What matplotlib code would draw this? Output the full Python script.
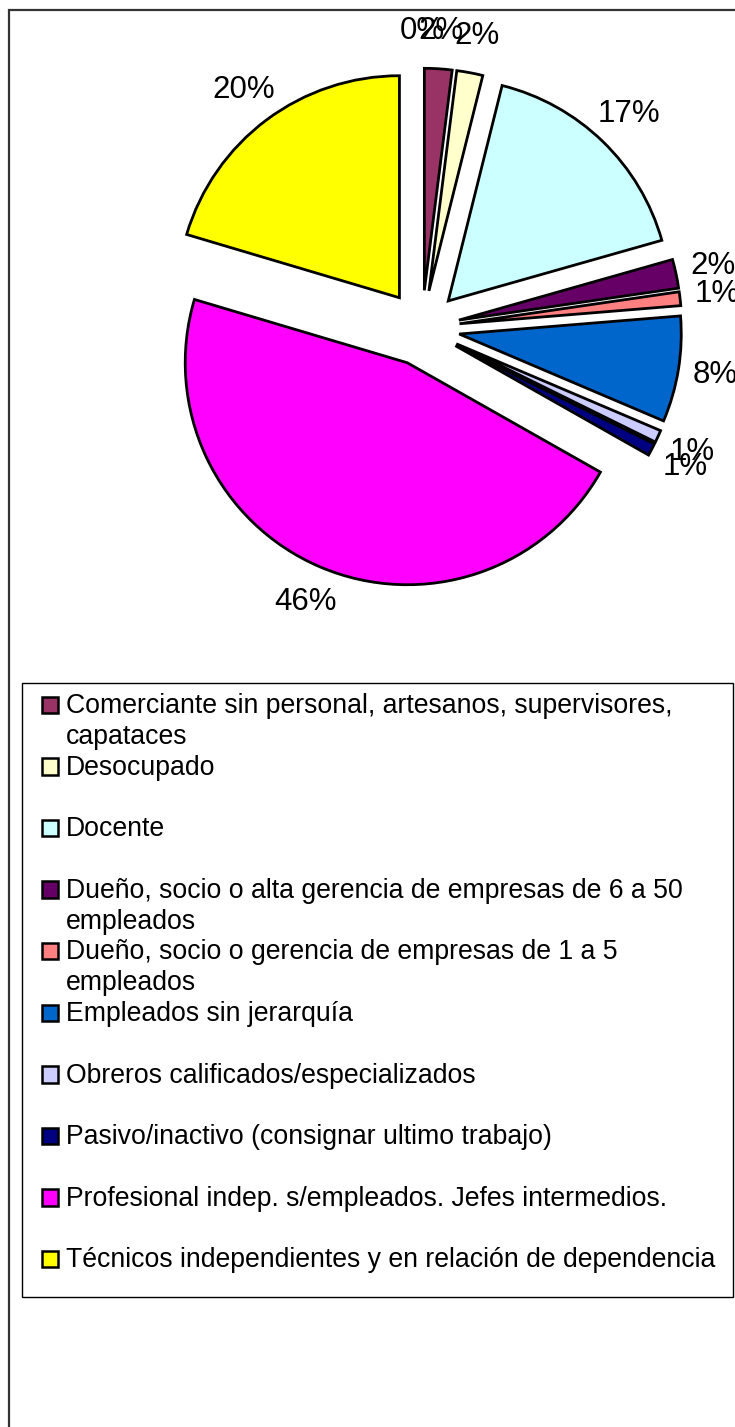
import matplotlib
matplotlib.use('Agg')
import matplotlib.pyplot as plt
from matplotlib.patches import Rectangle

# data
categories = ['',
              'Comerciante sin personal, artesanos, supervisores,\ncapataces',
              'Desocupado',
              'Docente',
              'Dueño, socio o alta gerencia de empresas de 6 a 50\nempleados',
              'Dueño, socio o gerencia de empresas de 1 a 5\nempleados',
              'Empleados sin jerarquía',
              'Obreros calificados/especializados',
              'Pasivo/inactivo (consignar ultimo trabajo)',
              'Profesional indep. s/empleados. Jefes intermedios.',
              'Técnicos independientes y en relación de dependencia']
values = [0, 2.0, 1.9, 16.7, 2.1, 1.0, 7.7, 0.9, 0.9, 46.4, 20.4]
colors = ['#9999FF', '#993366', '#FFFFCC', '#CCFFFF', '#660066', '#FF8080',
          '#0066CC', '#CCCCFF', '#000080', '#FF00FF', '#FFFF00']

W, H = 735, 1427
fig = plt.figure(figsize=(W / 100, H / 100), dpi=100)


def fx(x):
    return x / W


def fy(y):
    return 1 - y / H


# pie: centre at (422, 328) px, radius 222 px
cx, cy, R = 422, 328, 222
ax = fig.add_axes([0, 0, 1, 1])
wedges, texts, autotexts = ax.pie(values, colors=colors, startangle=90, counterclock=False,
                                  explode=[0.17] * len(values), radius=1,
                                  autopct='%1.0f%%', pctdistance=1.17,
                                  wedgeprops=dict(edgecolor='black', linewidth=2.0),
                                  textprops=dict(family=['Liberation Sans', 'DejaVu Sans'],
                                                 fontsize=22.5, color='black'))
wedges[0].set_linewidth(0)
ax.set_aspect('auto')
ax.set_xlim(-cx / R, (W - cx) / R)
ax.set_ylim((cy - H) / R, cy / R)
ax.axis('off')

# outer chart frame
fig.patches.append(Rectangle((fx(9), fy(H + 20)), fx(W + 20 - 9), fy(10) - fy(H + 20),
                             transform=fig.transFigure, fill=False,
                             edgecolor='#333333', linewidth=1.6))

# legend
fig.patches.append(Rectangle((fx(22), fy(1297)), fx(733 - 22), fy(683) - fy(1297),
                             transform=fig.transFigure, fill=False,
                             edgecolor='black', linewidth=1.0))
leg_font = ['Liberation Sans', 'DejaVu Sans']
for i, (name, col) in enumerate(zip(categories[1:], colors[1:])):
    base = 713 + 61.6 * i
    fig.patches.append(Rectangle((fx(42), fy(base)), fx(16), fy(base - 16.5) - fy(base),
                                 transform=fig.transFigure, facecolor=col,
                                 edgecolor='black', linewidth=1.8))
    for j, line in enumerate(name.split('\n')):
        fig.text(fx(66), fy(base + 31 * j), line, family=leg_font, fontsize=19.2,
                 ha='left', va='baseline', color='black')

fig.savefig('out.png', dpi=100)
